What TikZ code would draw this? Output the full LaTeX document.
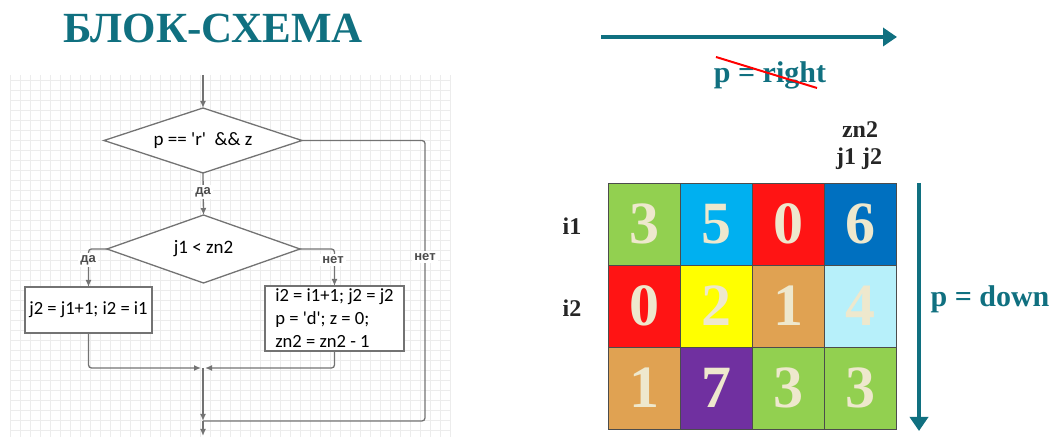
\documentclass[tikz,border=0pt]{standalone}
\usepackage{fontspec}
\setmainfont{Liberation Serif}
\newfontfamily\boxfont{Carlito}
\newfontfamily\labelfont{Liberation Sans}
\usetikzlibrary{shapes.geometric,arrows.meta,positioning}

\definecolor{headteal}{RGB}{16,112,128}
\definecolor{cgreen}{RGB}{146,208,80}
\definecolor{ccyan}{RGB}{0,176,240}
\definecolor{cred}{RGB}{255,20,20}
\definecolor{cblue}{RGB}{0,112,192}
\definecolor{cyellow}{RGB}{255,255,0}
\definecolor{ctan}{RGB}{224,162,82}
\definecolor{clight}{RGB}{183,240,250}
\definecolor{cpurple}{RGB}{112,48,160}
\definecolor{digit}{RGB}{238,232,205}

\begin{document}
\begin{tikzpicture}[x=0.5pt, y=-0.5pt,
    flow/.style={draw=black!55, line width=0.65pt, rounded corners=1.5pt},
    flowarrow/.style={-{Latex[length=3.5pt,width=3pt]}},
    decision/.style={draw=black!55, line width=0.65pt, fill=white, diamond, inner sep=0pt, outer sep=0pt, font=\boxfont\fontsize{9.5}{10}\selectfont},
    action/.style={draw=black!55, line width=0.65pt, fill=white, rectangle, inner ysep=0pt, inner xsep=4pt, outer sep=0pt, font=\boxfont\fontsize{9.3}{11.5}\selectfont},
    answer/.style={fill=white, inner sep=1pt, font=\labelfont\bfseries\fontsize{6.5}{7}\selectfont, text=black!70},
    cell/.style={draw=black!70, line width=0.4pt, minimum width=36pt, minimum height=41pt, inner sep=0pt, text=digit, font=\bfseries\fontsize{30}{30}\selectfont},
    index/.style={font=\bfseries\fontsize{12}{12}\selectfont, text=black!85, anchor=base},
    teallabel/.style={font=\bfseries\fontsize{15}{15}\selectfont, text=headteal, anchor=base},
    bigarrow/.style={draw=headteal, line width=2pt, -{Triangle[length=7pt,width=9pt]}}]
    \useasboundingbox (0,0) rectangle (1050,437);

    % title
    \node[anchor=base, text=headteal, font=\bfseries\fontsize{21.5}{22}\selectfont] (title) at (213,43) {БЛОК-СХЕМА};

    % flowchart
    \draw[gray!15, line width=0.3pt] (10,75) grid[step=5pt] (450,437);

    \coordinate (start) at (203,75);
    \node[decision, minimum width=99pt, minimum height=32.5pt] (cond1) at (203,140.5) {\makebox[0pt]{p == \textquotesingle r\textquotesingle\ \ \&\& z}};
    \node[decision, minimum width=96.5pt, minimum height=34pt] (cond2) at (203.5,249) {\makebox[0pt]{j1 < zn2}};
    \node[action, inner xsep=1pt, minimum width=63.5pt, minimum height=23pt] (leftbox) at (88.5,310) {j2 = j1+1; i2 = i1};
    \node[action, minimum width=69.5pt, minimum height=32.5pt, align=left] (rightbox) at (334.5,318.5) {i2 = i1+1; j2 = j2\\p = \textquotesingle d\textquotesingle; z = 0;\\zn2 = zn2 - 1};
    \coordinate (merge) at (203,368);
    \coordinate (join) at (203,421);
    \coordinate (nocorner) at (425,421);
    \coordinate (finish) at (203,436);

    \draw[flow, flowarrow] (start) -- (cond1.north);
    \draw[flow, flowarrow] (cond1.south) -- (cond2.north);
    \draw[flow, flowarrow] (cond2.west) -| (leftbox.north);
    \draw[flow, flowarrow] (cond2.east) -| (rightbox.north);
    \draw[flow, flowarrow, shorten >=1pt] (leftbox.south) |- (merge);
    \draw[flow, flowarrow, shorten >=1pt] (rightbox.south) |- (merge);
    \draw[flow, flowarrow] (merge) -- (join);
    \draw[flow] (cond1.east) -| (nocorner) -- (join);
    \draw[flow, flowarrow] (join) -- (finish);

    \node[answer] (yes1) at (203,192) {да};
    \node[answer] (yes2) at (88,260) {да};
    \node[answer] (no2) at (333,260) {нет};
    \node[answer] (no1) at (425,257) {нет};

    % array
    \coordinate (rstart) at (601,37);
    \coordinate (rend) at (897,37);
    \draw[bigarrow] (rstart) -- (rend);
    \node[teallabel] (pright) at (770,83) {p = right};
    \coordinate (cross1) at (716,57);
    \coordinate (cross2) at (817,88);
    \draw[red, line width=1pt] (cross1) -- (cross2);

    \node[index] (zn) at (860,138) {zn2};
    \node[index] (jj) at (859,165) {j1 j2};
    \node[index] (i1) at (572,235) {i1};
    \node[index] (i2) at (572,317) {i2};

    \foreach \c/\r/\col/\d in {0/0/cgreen/3, 1/0/ccyan/5, 2/0/cred/0, 3/0/cblue/6,
                               0/1/cred/0, 1/1/cyellow/2, 2/1/ctan/1, 3/1/clight/4,
                               0/2/ctan/1, 1/2/cpurple/7, 2/2/cgreen/3, 3/2/cgreen/3}
        \node[cell, fill=\col] (cell\r\c) at (644+72*\c, 224+82*\r) {\d};

    \coordinate (dstart) at (919,183);
    \coordinate (dend) at (919,431);
    \draw[bigarrow] (dstart) -- (dend);
    \node[teallabel] (pdown) at (990,307) {p = down};
\end{tikzpicture}
\end{document}
